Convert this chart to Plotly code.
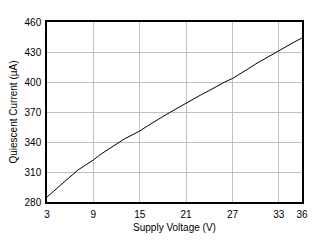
import plotly.graph_objects as go

voltage = [3, 4, 5, 6, 7, 8, 9, 10, 11, 12, 13, 14, 15, 16, 17, 18, 19, 20,
           21, 22, 23, 24, 25, 26, 27, 28, 29, 30, 31, 32, 33, 34, 35, 36]
current = [285, 292, 299, 306, 312, 317, 322, 328, 333, 338, 343, 347, 351,
           356, 361, 365.5, 370, 374.5, 379, 383, 387.5, 391.5, 396, 400,
           403.5, 408, 413, 418, 422.5, 427, 431.5, 436, 440, 444]
x_ticks = [3, 9, 15, 21, 27, 33, 36]
y_ticks = [280, 310, 340, 370, 400, 430, 460]

font = "Liberation Sans, Arial, sans-serif"

fig = go.Figure()
fig.add_trace(go.Scatter(x=voltage, y=current, mode="lines",
                         line=dict(color="black", width=1), showlegend=False))

axis_common = dict(showgrid=True, gridcolor="#c0c0c0", gridwidth=1,
                   showline=True, linecolor="black", linewidth=1.5, mirror=True,
                   zeroline=False,
                   ticks="outside", ticklen=2, tickcolor="rgba(0,0,0,0)",
                   tickfont=dict(family=font, size=10, color="black"))

fig.update_xaxes(range=[3, 36], tickmode="array", tickvals=x_ticks,
                 title=dict(text="Supply Voltage (V)", font=dict(family=font, size=10, color="black"), standoff=5),
                 **axis_common)
fig.update_yaxes(range=[280, 460], tickmode="array", tickvals=y_ticks,
                 title=dict(text="Quiescent Current (µA)", font=dict(family=font, size=10, color="black"), standoff=5),
                 **axis_common)

fig.update_layout(width=322, height=243, margin=dict(l=47, r=20, t=22, b=41),
                  paper_bgcolor="white", plot_bgcolor="white")

fig.write_html("out.html")
